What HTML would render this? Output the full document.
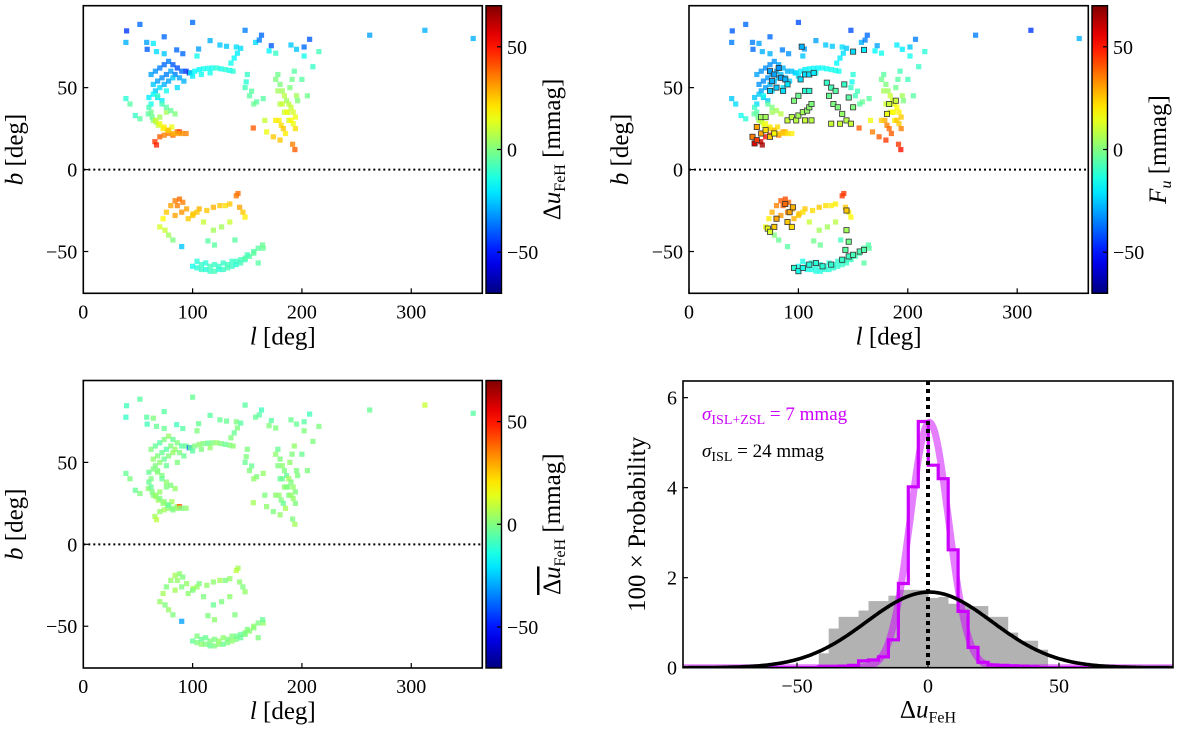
<!DOCTYPE html>
<html><head><meta charset="utf-8"><style>
html,body{margin:0;padding:0;background:#fff;}
svg{display:block;font-family:"Liberation Serif",serif;}
</style></head><body>
<svg id="fig" width="1200" height="732" viewBox="0 0 1200 732" xmlns="http://www.w3.org/2000/svg"></svg>
<script>
// ---------- DATA: star positions (galactic l, b) ----------
const starL=[39.6,51.8,100,39,58,64,58.5,67,74,74,85.4,91,105.5,104,116,125,131,140,148,157.6,163,161,172,170,176,190,195,202,207,202,215.5,210,262,312.5,356.7,
62,66,70,74,78,82,86,90,94,64,68,72,76,80,84,88,92,66,70,74,78,82,86,60,64,68,72,76,62,97,
98,102,106,110,114,118,122,126,130,134,137,100,108,116,135,138,141,144,
39,42.7,47.6,51.8,59.5,64,66.5,68.6,62,65.5,67,70,74,78,82,86,88,73,77,81,60,63,70,76,
149,154,158.5,164.6,166,155.5,167.7,173.8,180,193.6,191.5,178,180,182,184,186,188,190,192,194,179,181,183,185,187,189,191,193,195,180,184,188,192,196,200,205,
70,73,76,80,84,88,91,94.5,100.6,106,113,119,125,130,134,141.5,143,146,148,140,110,119,126.5,134,
74.7,78,82,90,114,120,138.7,164.6,160,100,104,108,112,116,120,124,128,132,136,140,144,148,152,156,108,116,124,132,140,148,
66,70,74,78,82,86,90,94,68,72,76,80,84,150,148,152,156,176,178,182,186,190,194,176,86,90,84,96,100,104,104,112,120,128,136,144,150,156,160,164];
const starB=[84.6,88.6,89.8,77.6,77.6,77,73.4,72,81,70.7,73,70.7,73.6,69.3,78.7,76,75.2,74.8,85,77.6,82,79,75.6,72.4,71,76,73.4,74.8,79.5,69.3,72,62.8,82,85,80,
58,60,62,64,66,64,62,60,60,52,54,56,58,60,58,56,54,48,50,52,54,56,50,44,46,44,42,48,40,59,
59,60,61,61.5,61.8,62,62,61.5,61,60.5,60,57,58,59,65,68,71,74,
43.3,40,33,31,34,30,29,27,35,17,15,20,21,22,21,23,23,25,24,26,38,32,32,35,
53.5,47.8,41.3,43.3,30,25.4,23,20,18,12.2,15.4,58,52,48,45,42,40,38,35,32,30,27,25,22,35,50,55,60,45,40,35,30,28,42,55,45,
-35,-30,-26,-22,-19,-18,-20,-24,-27,-24,-25,-23,-22,-22,-21,-14.6,-23,-26,-29,-16,-32,-37,-35,-32,
-37,-40,-43,-47,-43.5,-46,-43,-48,-57,-59,-60,-61,-61,-62,-62,-61,-61,-60,-59,-58,-57,-55,-53,-51,-58,-59,-59,-58,-56,-54,
30,28,26,24,22,22,22,22,45,40,38,36,34,58,50,45,40,55,48,40,35,30,25,30,-22,-26,-28,-30,-28,-26,-56,-57,-58,-57,-56,-55,-52,-50,-48,-46];
// panel 1: Delta u_FeH [mmag]
const deltaU=[-45,-38,-38,-28,-30,-20,-40,-22,-38,-25,-38,-38,-30,-15,-28,-25,-25,-22,-35,-22,-38,-35,-40,-18,-10,-25,-25,-38,-40,-15,-8,-10,-30,-28,-28,
-30,-32,-35,-38,-35,-40,-42,-38,-45,-25,-30,-33,-35,-30,-35,-30,-28,-25,-22,-28,-30,-25,-22,-20,-18,-22,-20,-15,-15,-60,
-20,-18,-18,-15,-15,-15,-12,-15,-12,-15,-12,-20,-15,-15,-15,-18,-20,-22,
-12,-5,-10,-5,-5,0,5,10,-2,45,48,40,35,35,38,40,45,20,25,15,-8,-3,5,5,
-12,-5,-5,-5,10,40,15,25,25,40,35,-2,0,5,8,5,8,10,12,15,20,22,25,20,10,0,-2,-5,5,8,10,12,15,0,-5,-2,
12,18,25,30,35,38,35,30,25,28,25,28,25,22,25,38,30,25,20,36,10,5,5,10,
10,5,0,-25,-5,-5,-5,-3,-5,-15,-12,-10,-12,-10,-8,-12,-10,-8,-10,-12,-8,-10,-5,-5,-10,-8,-10,-8,-10,-5,
10,15,20,25,28,30,32,35,-10,-8,-5,-3,0,-10,-8,-5,-3,0,5,10,15,18,22,20,35,32,30,25,25,25,-12,-12,-10,-10,-10,-8,-8,-5,-5,-3];
// panel 2: F_u [mmag]
const fU=[-40,-38,-42,-35,-35,-30,-38,-28,-38,-28,-35,-32,-30,-25,-30,-25,-25,-22,-42,-28,-38,-35,-30,-18,-15,-20,-20,-25,-35,-15,-12,-10,-35,-45,-28,
-30,-32,-33,-33,-32,-30,-28,-28,-26,-32,-33,-32,-30,-28,-26,-25,-24,-30,-30,-28,-26,-25,-22,-25,-25,-26,-25,-22,-22,-25,
-22,-20,-20,-18,-18,-18,-16,-16,-15,-15,-15,-22,-20,-18,-18,-20,-22,-25,
-25,-22,-15,-12,-5,5,8,15,-5,60,65,50,45,40,35,30,28,25,28,22,-10,-2,10,5,
-15,-8,-3,-5,15,40,35,40,45,50,45,-5,0,5,10,12,15,18,20,25,30,35,38,40,15,-2,-5,-8,5,10,15,20,25,0,-8,-5,
15,20,28,35,40,42,38,32,28,25,22,25,22,20,20,45,25,20,18,45,10,5,5,8,
5,0,-3,-5,-2,-3,-8,-5,-5,-15,-15,-14,-14,-13,-13,-12,-12,-12,-11,-10,-10,-9,-8,-7,-13,-13,-12,-12,-10,-9,
10,15,20,25,25,25,22,20,-15,-5,0,5,8,-12,-10,-8,-5,-2,5,12,18,25,35,25,40,35,32,28,25,22,-14,-13,-13,-12,-11,-10,-9,-8,-7,-6];
// panel 3: mean Delta u_FeH [mmag]
const deltaUbar=[-8,-5,-3,-10,-5,0,-8,-3,-5,-3,-8,-5,-3,0,-5,-3,-3,0,-5,-3,-8,-5,-5,0,0,-3,-3,-5,-8,0,0,0,-3,10,-5,
0,-3,-5,0,3,-3,0,-5,-3,2,0,-3,-5,0,3,0,-3,0,2,-3,0,3,0,-3,0,2,0,-3,0,-40,
-3,0,2,0,-3,0,3,0,-3,0,2,-5,0,3,0,-3,0,-5,
-3,0,-3,0,2,0,3,5,-3,5,8,3,5,2,0,3,40,2,0,5,-3,0,3,0,
0,-3,0,3,0,5,2,0,3,5,0,-3,0,2,0,-3,5,0,3,0,2,0,-3,5,0,2,0,3,0,-3,2,0,3,0,-3,0,
3,5,0,3,5,2,0,3,5,0,3,2,5,0,3,5,2,0,3,8,0,-3,0,2,
0,3,0,-30,0,2,0,3,0,-3,0,2,0,-3,0,2,-3,0,2,0,-3,0,2,0,-3,0,3,0,-2,0,
3,0,2,-3,0,3,0,2,0,-3,2,0,3,0,-3,0,3,2,0,-3,0,3,0,2,3,0,5,2,0,3,0,-3,0,2,0,-3,0,2,0,-3];
// panel 2 outlined stars [l, b, F_u]
const outlinedStars=[[74,60,-30],[78,58,-30],[76,54,-28],[80,50,-25],[84,56,-30],[88,55,-28],[74,48,-25],[86,48,-22],[90,52,-20],[82,62,-32],
[102,55,-22],[106,58,-22],[110,58,-22],[114,59,-20],[106,48,-12],[110,48,-12],
[90,30,10],[94,32,8],[98,30,8],[100,33,5],[104,35,5],[108,36,3],[110,38,2],[112,40,0],[106,30,10],[112,30,8],[96,42,0],[100,45,-3],
[126,53,-10],[130,50,-8],[134,48,-5],[128,45,-3],[132,40,0],[136,38,0],[140,34,3],[144,30,8],[148,28,10],[130,28,10],[138,28,10],[146,44,-5],[150,38,0],[142,52,-10],
[58,20,35],[60,16,55],[62,18,45],[66,22,30],[70,24,22],[74,20,25],[78,22,18],[66,32,5],[70,32,5],[62,26,30],
[181,34,15],[183,40,10],[189,42,10],[103,75,-28],[150,72,-22],[160,73,-20],
[78,-35,25],[80,-30,30],[88,-21,38],[92,-26,30],[95,-23,28],[90,-32,25],[94,-35,22],[72,-36,15],[74,-38,12],[144,-25,25],[144,-37,5],[146,-44,-2],[143,-49,-5],
[96,-60,-12],[100,-62,-15],[104,-60,-14],[110,-58,-13],[116,-57,-12],[122,-59,-12],[130,-58,-11],[140,-55,-10],[146,-53,-9],[150,-52,-8],[156,-50,-7],[160,-49,-6]];
const lTicks=[0,100,200,300];
const bTicks=[-50,0,50];
const cbTicks=[-50,0,50];
// ---------- DATA: histogram ----------
const binStart=-41.7, binWidth=3.8;
const isl=[0.32,0.87,1.13,1.13,1.27,1.48,1.48,1.6,1.73,1.73,1.73,1.55,1.57,1.42,1.42,1.37,1.37,1.13,1.13,0.78,0.6,0.6,0.4];
const islZsl=[0.02,0.02,0.03,0.05,0.15,0.17,0.24,0.62,1.87,4.02,5.47,4.5,4.2,2.62,1.25,0.45,0.12,0.06,0.05,0.04,0.03,0.02];
const gaussMean=[0.5,0.5], gaussPeak=[5.45,1.68], gaussSigma=[7.3,24];
const hxTicks=[-50,0,50], hyTicks=[0,2,4,6];

const NS="http://www.w3.org/2000/svg";
const svg=document.getElementById('fig');
function el(tag,attrs,parent){const e=document.createElementNS(NS,tag);for(const k in attrs)e.setAttribute(k,attrs[k]);(parent||svg).appendChild(e);return e;}
function lin(d0,d1,r0,r1){return v=>r0+(v-d0)*(r1-r0)/(d1-d0);}
function jet(t){t=Math.max(0,Math.min(1,t));const c=x=>Math.round(255*Math.max(0,Math.min(1,1.5-Math.abs(4*t-x))));return `rgb(${c(3)},${c(2)},${c(1)})`;}
const CMIN=-70,CMAX=70;
const MS=5.2;

function mapPanel(name,X0,X1,Y0,Y1,vals,extra,cbX,cbLabel){
  const sx=lin(0,365,X0,X1), sy=lin(100,-75.5,Y0,Y1);
  const g=el('g',{});
  
  
  const pts=el('g',{},g);
  
  
  const n=Math.min(starL.length,starB.length,vals.length);
  for(let i=0;i<n;i++){
    const r=el('rect',{x:(sx(starL[i])-MS/2).toFixed(1),y:(sy(starB[i])-MS/2).toFixed(1),width:MS,height:MS,fill:jet((vals[i]-CMIN)/(CMAX-CMIN)),'fill-opacity':0.8},pts);
    
    
  }
  if(extra){
    for(const s of extra){
      const r=el('rect',{x:(sx(s[0])-2.6).toFixed(1),y:(sy(s[1])-2.6).toFixed(1),width:5.2,height:5.2,fill:jet((s[2]-CMIN)/(CMAX-CMIN)),stroke:'#333','stroke-width':0.8},pts);
      
      
    }
  }
  const dl=el('line',{x1:X0,x2:X1,y1:sy(0),y2:sy(0),stroke:'#000','stroke-width':2,'stroke-dasharray':'2,3'},g);
  
  
  const fr=el('rect',{x:X0,y:Y0,width:X1-X0,height:Y1-Y0,fill:'none',stroke:'#000','stroke-width':1.6},g);
  
  
  for(const t of lTicks){
    const x=sx(t);
    el('line',{x1:x,x2:x,y1:Y1,y2:Y1-5,stroke:'#000','stroke-width':1.2},g);
    const tx=el('text',{x:x,y:Y1+25,'text-anchor':'middle','font-size':20},g);
    tx.textContent=t;
    
    
  }
  for(const t of bTicks){
    const y=sy(t);
    el('line',{x1:X0,x2:X0+5,y1:y,y2:y,stroke:'#000','stroke-width':1.2},g);
    const tx=el('text',{x:X0-6,y:y+7,'text-anchor':'end','font-size':20},g);
    tx.textContent=t<0?'\u2212'+(-t):t;
    
    
  }
  const xl=el('text',{x:(X0+X1)/2,y:Y1+51,'text-anchor':'middle','font-size':25},g);
  xl.innerHTML='<tspan font-style="italic">l</tspan> [deg]';
  
  
  const yl=el('text',{transform:`translate(${X0-61},${(Y0+Y1)/2}) rotate(-90)`,'text-anchor':'middle','font-size':25},g);
  yl.innerHTML='<tspan font-style="italic">b</tspan> [deg]';
  
  
  const gid='cb'+name;
  const defs=el('defs',{},g);
  const lg=el('linearGradient',{id:gid,x1:0,y1:1,x2:0,y2:0},defs);
  for(let k=0;k<=20;k++)el('stop',{offset:k/20,'stop-color':jet(k/20)},lg);
  const cb=el('rect',{x:cbX,y:Y0,width:15.5,height:Y1-Y0,fill:`url(#${gid})`,stroke:'#000','stroke-width':1.4},g);
  
  
  const cy=lin(CMIN,CMAX,Y1,Y0);
  for(const t of cbTicks){
    el('line',{x1:cbX+15.5,x2:cbX+11,y1:cy(t),y2:cy(t),stroke:'#000','stroke-width':1.2},g);
    const tx=el('text',{x:cbX+21,y:cy(t)+7,'font-size':20},g);
    tx.textContent=t<0?'\u2212'+(-t):t;
    
    
  }
  const cl=el('text',{transform:`translate(${cbX+74},${(Y0+Y1)/2}) rotate(-90)`,'text-anchor':'middle','font-size':25},g);
  cl.innerHTML=cbLabel;
  
  
}
const sub='<tspan font-size="16" dy="5">FeH</tspan><tspan dy="-5"> [mmag]</tspan>';
mapPanel('delta-u-map',83.3,482.3,5.7,293.3,deltaU,null,486,'\u0394<tspan font-style="italic">u</tspan>'+sub);
mapPanel('fu-map',689,1088.3,5.7,293.3,fU,outlinedStars,1092,'<tspan font-style="italic">F</tspan><tspan font-size="16" dy="5" font-style="italic">u</tspan><tspan dy="-5"> [mmag]</tspan>');
mapPanel('mean-delta-u-map',83.3,482.3,380.5,668,deltaUbar,null,486,'<tspan text-decoration="overline">\u0394<tspan font-style="italic">u</tspan></tspan>'+sub);

// ---------- histogram panel ----------
(function(){
  const X0=683,X1=1173,Y0=381,Y1=667.7;
  const sx=lin(-93.5,93.5,X0,X1), sy=lin(0,6.37,Y1,Y0);
  const g=el('g',{});
  
  
  const cp=el('clipPath',{id:'hclip'},el('defs',{},g));
  el('rect',{x:X0,y:Y0,width:X1-X0,height:Y1-Y0},cp);
  const inner=el('g',{'clip-path':'url(#hclip)'},g);
  isl.forEach((v,i)=>{
    const a=binStart+i*binWidth;
    const r=el('rect',{x:sx(a),y:sy(v),width:sx(a+binWidth)-sx(a)+0.3,height:Y1-sy(v),fill:'#b2b2b2'},inner);
    
    
  });
  function gpath(k){let d='';for(let x=-93.5;x<=93.5;x+=0.5){const y=gaussPeak[k]*Math.exp(-0.5*Math.pow((x-gaussMean[k])/gaussSigma[k],2));d+=(d?'L':'M')+sx(x).toFixed(1)+','+sy(y).toFixed(1);}return d;}
  const g1=el('path',{d:gpath(0),fill:'none',stroke:'rgb(204,0,255)','stroke-opacity':0.5,'stroke-width':7},inner);
  
  
  let d='M'+X0+','+sy(0)+'L'+sx(binStart)+','+sy(0);
  islZsl.forEach((v,i)=>{const a=binStart+i*binWidth;d+='L'+sx(a).toFixed(1)+','+sy(v).toFixed(1)+'L'+sx(a+binWidth).toFixed(1)+','+sy(v).toFixed(1);});
  d+='L'+sx(binStart+islZsl.length*binWidth).toFixed(1)+','+sy(0)+'L'+X1+','+sy(0);
  const st=el('path',{d:d,fill:'none',stroke:'rgb(204,0,255)','stroke-width':3.2},inner);
  
  
  const g2=el('path',{d:gpath(1),fill:'none',stroke:'#000','stroke-width':3.6},inner);
  
  
  const zl=el('line',{x1:sx(0),x2:sx(0),y1:Y0,y2:Y1,stroke:'#000','stroke-width':4,'stroke-dasharray':'4,4'},inner);
  
  
  const fr=el('rect',{x:X0,y:Y0,width:X1-X0,height:Y1-Y0,fill:'none',stroke:'#000','stroke-width':1.6},g);
  
  
  for(const t of hxTicks){
    const x=sx(t);
    el('line',{x1:x,x2:x,y1:Y1,y2:Y1-5,stroke:'#000','stroke-width':1.2},g);
    const tx=el('text',{x:x,y:Y1+25,'text-anchor':'middle','font-size':20},g);
    tx.textContent=t<0?'\u2212'+(-t):t;
    
    
  }
  for(const t of hyTicks){
    const y=sy(t);
    el('line',{x1:X0,x2:X0+5,y1:y,y2:y,stroke:'#000','stroke-width':1.2},g);
    const tx=el('text',{x:X0-6,y:y+7,'text-anchor':'end','font-size':20},g);
    tx.textContent=t;
    
    
  }
  const xl=el('text',{x:(X0+X1)/2,y:Y1+50,'text-anchor':'middle','font-size':25},g);
  xl.innerHTML='\u0394<tspan font-style="italic">u</tspan><tspan font-size="16" dy="5">FeH</tspan>';
  
  
  const yl=el('text',{transform:`translate(${X0-38},${(Y0+Y1)/2}) rotate(-90)`,'text-anchor':'middle','font-size':25},g);
  yl.textContent='100 \u00d7 Probability';
  
  
  const a1=el('text',{x:702,y:420,'font-size':19,fill:'rgb(204,0,255)'},g);
  a1.innerHTML='<tspan font-style="italic">\u03c3</tspan><tspan font-size="14" dy="4">ISL+ZSL</tspan><tspan dy="-4"> = 7 mmag</tspan>';
  
  
  const a2=el('text',{x:702,y:457,'font-size':19,fill:'#000'},g);
  a2.innerHTML='<tspan font-style="italic">\u03c3</tspan><tspan font-size="14" dy="4">ISL</tspan><tspan dy="-4"> = 24 mmag</tspan>';
  
  
})();
</script>
</body></html>
